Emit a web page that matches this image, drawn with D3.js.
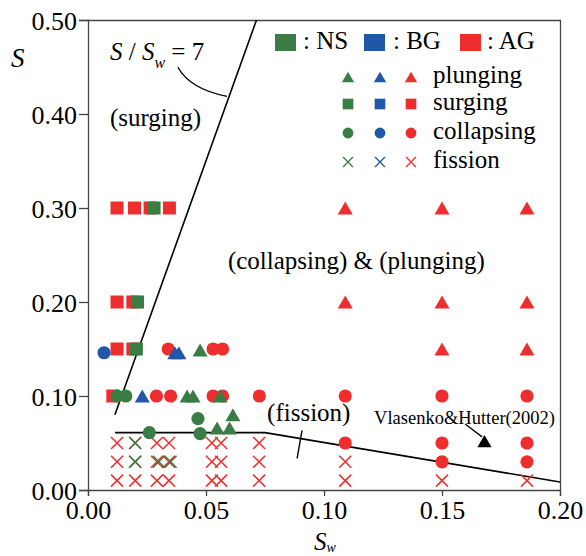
<!DOCTYPE html>
<html><head><meta charset="utf-8">
<script src="https://cdn.jsdelivr.net/npm/d3@7"></script>
<style>body{margin:0;background:#fff}svg{display:block}svg text{font-family:"Liberation Serif","Times New Roman",serif !important}</style>
</head><body><svg id="c" width="586" height="556"></svg>
<script>
// ---- data: [Sw, S] ----
const xTicks = [0, 0.05, 0.10, 0.15, 0.20];
const yTicks = [0, 0.10, 0.20, 0.30, 0.40, 0.50];
const groups = ["NS", "BG", "AG"];
const breakerTypes = ["plunging", "surging", "collapsing", "fission"];

const agPlunging = [[0.109,0.30],[0.150,0.30],[0.186,0.30],[0.109,0.20],[0.150,0.20],[0.186,0.20],[0.150,0.15],[0.186,0.15]];
const agSurging = [[0.0123,0.30],[0.0197,0.30],[0.0263,0.30],[0.0345,0.30],[0.0123,0.20],[0.0190,0.20],[0.0123,0.15],[0.0190,0.15],[0.0105,0.10]];
const agCollapsing = [[0.034,0.15],[0.053,0.15],[0.057,0.15],[0.029,0.10],[0.035,0.10],[0.053,0.10],[0.057,0.10],[0.0726,0.10],
  [0.109,0.10],[0.150,0.10],[0.186,0.10],[0.109,0.05],[0.150,0.05],[0.186,0.05],[0.150,0.03],[0.186,0.03]];
const agFission = [
  [0.0123,0.05],[0.020,0.05],[0.0292,0.05],[0.0343,0.05],[0.0525,0.05],[0.0564,0.05],[0.0725,0.05],
  [0.0123,0.03],[0.020,0.03],[0.0292,0.03],[0.0343,0.03],[0.0525,0.03],[0.0564,0.03],[0.0725,0.03],
  [0.0123,0.01],[0.020,0.01],[0.0292,0.01],[0.0343,0.01],[0.0525,0.01],[0.0564,0.01],[0.0725,0.01],
  [0.109,0.03],[0.109,0.01],[0.150,0.01],[0.186,0.01]];

const bgPlunging = [[0.023,0.10],[0.0368,0.146],[0.0385,0.146]];
const bgSurging = [];
const bgCollapsing = [[0.0068,0.146]];
const bgFission = [];

const nsPlunging = [[0.0475,0.149],[0.042,0.10],[0.0445,0.10],[0.056,0.10],[0.0547,0.066],[0.060,0.066],[0.0614,0.080]];
const nsSurging = [[0.028,0.30],[0.021,0.20],[0.0205,0.15]];
const nsCollapsing = [[0.0123,0.10],[0.016,0.10],[0.0466,0.076],[0.0475,0.060],[0.026,0.061]];
const nsFission = [[0.020,0.05],[0.020,0.03],[0.030,0.03],[0.035,0.03]];

const vlasenkoHutter = [[0.168,0.052]];

const ratioLine = [[0.0114,0.08],[0.0714,0.50]];          // S / Sw = 7
const fissionLine = [[0.0115,0.061],[0.075,0.061],[0.20,0.0085]];

// ---- drawing ----
const colors = {NS:"#3a7d44", BG:"#2157a8", AG:"#ee2e2e"};
const svg = d3.select("#c");
const x = d3.scaleLinear().domain([0,0.2]).range([88,560]);
const y = d3.scaleLinear().domain([0,0.5]).range([490,20]);
const FS = 25;

function shapePath(type, s) {
  if (type === "plunging") { const w = 15*s, h = 13*s; return `M0,${-h/2}L${w/2},${h/2}L${-w/2},${h/2}Z`; }
  if (type === "surging") { const a = 6.5*s; return `M${-a},${-a}H${a}V${a}H${-a}Z`; }
  if (type === "collapsing") { const r = 6.6*s; return d3.arc()({innerRadius:0,outerRadius:r,startAngle:0,endAngle:2*Math.PI}); }
  const c = 6*s; return `M${-c},${-c}L${c},${c}M${-c},${c}L${c},${-c}`;
}
function drawMarks(data, type, color, s) {
  svg.append("g").selectAll("path").data(data).join("path")
    .attr("transform", d => `translate(${x(d[0])},${y(d[1])})`)
    .attr("d", shapePath(type, s))
    .attr("fill", type === "fission" ? "none" : color)
    .attr("stroke", type === "fission" ? color : "none")
    .attr("stroke-width", 1.5);
}

// frame
svg.append("path").attr("d", `M${x(0)},${y(0.5)+0.5}H${x(0.2)+0.5}V${y(0)}`).attr("fill","none").attr("stroke","#444").attr("stroke-width",1.3);

// axes
const gy = svg.append("g").attr("transform", `translate(${x(0)},0)`)
  .call(d3.axisLeft(y).tickValues(yTicks).tickFormat(d3.format(".2f")).tickSize(9).tickPadding(2));
const gx = svg.append("g").attr("transform", `translate(0,${y(0)})`)
  .call(d3.axisBottom(x).tickValues(xTicks).tickFormat(d3.format(".2f")).tickSize(6).tickPadding(5));
[gx, gy].forEach(g => {
  g.attr("font-family", "Liberation Serif");
  g.selectAll("path.domain,line").attr("stroke","#444").attr("stroke-width",1.3);
  g.selectAll("text").attr("font-size",26).attr("fill","#000");
});
gy.selectAll("text").attr("dy","0.38em");

// boundary lines
const line = d3.line().x(d => x(d[0])).y(d => y(d[1]));
svg.append("path").attr("d", line(ratioLine)).attr("fill","none").attr("stroke","#000").attr("stroke-width",1.6);
svg.append("path").attr("d", line(fissionLine)).attr("fill","none").attr("stroke","#000").attr("stroke-width",1.6);

// markers: red, then blue, then green
const series = {
  AG: [agFission, agSurging, agCollapsing, agPlunging],
  BG: [bgFission, bgSurging, bgCollapsing, bgPlunging],
  NS: [nsFission, nsSurging, nsCollapsing, nsPlunging]
};
const order = ["fission","surging","collapsing","plunging"];
["AG","BG","NS"].forEach(g => series[g].forEach((d,i) => drawMarks(d, order[i], colors[g], 1)));
drawMarks(vlasenkoHutter, "plunging", "#000", 0.95);

// annotations
const txt = (t, px, py, size) => svg.append("text").attr("x",px).attr("y",py).attr("font-size",size).attr("fill","#000").text(t);
txt("(surging)", x(0.0093), y(0.3872), FS);
txt("(collapsing) & (plunging)", x(0.0593), y(0.2355), FS);
txt("(fission)", x(0.0759), y(0.0735), FS);
txt("Vlasenko&Hutter(2002)", x(0.1212), y(0.0702), 18.5);

const eq = svg.append("text").attr("x", x(0.0093)).attr("y", y(0.4574)).attr("font-size", FS).attr("fill","#000");
eq.append("tspan").attr("font-style","italic").text("S");
eq.append("tspan").text(" / ");
eq.append("tspan").attr("font-style","italic").text("S");
eq.append("tspan").attr("font-style","italic").attr("font-size",16).attr("dy",8).text("w");
eq.append("tspan").attr("dy",-8).text(" = 7");

// leader curve S/Sw=7
svg.append("path").attr("d", `M${x(0.0381)},${y(0.4497)}Q${x(0.0432)},${y(0.4265)} ${x(0.0589)},${y(0.4187)}`)
  .attr("fill","none").attr("stroke","#000").attr("stroke-width",1.4);
// tick mark on fission boundary
svg.append("path").attr("d", line([[0.0907,0.0635],[0.0886,0.0337]])).attr("fill","none").attr("stroke","#000").attr("stroke-width",1.4);
// arrow to Vlasenko & Hutter point
svg.append("path").attr("d", line([[0.1598,0.0702],[0.1670,0.0565]])).attr("fill","none").attr("stroke","#000").attr("stroke-width",1.3);

// axis titles
svg.append("text").attr("x",11).attr("y",67).attr("font-size",27).attr("font-style","italic").attr("fill","#000").text("S");
const xl = svg.append("text").attr("x",x(0.1)-10).attr("y",550).attr("font-size",25).attr("font-style","italic").attr("fill","#000");
xl.append("tspan").text("S");
xl.append("tspan").attr("font-size",14).attr("dy",2).text("w");

// legend
const leg = svg.append("g");
const hdr = [["NS",275,303],["BG",364,393],["AG",460,487]];
hdr.forEach(([g,sx,tx]) => {
  leg.append("rect").attr("x",sx).attr("y",34).attr("width",21).attr("height",17).attr("fill",colors[g]);
  leg.append("text").attr("x",tx).attr("y",49).attr("font-size",FS).attr("fill","#000").text(": " + g);
});
const rowY = [77, 104, 133, 162];
const colX = {NS:348, BG:380, AG:411};
breakerTypes.forEach((t,i) => {
  groups.forEach(g => {
    leg.append("path").attr("transform",`translate(${colX[g]},${rowY[i]})`).attr("d", shapePath(t, 0.82))
      .attr("fill", t==="fission" ? "none" : colors[g]).attr("stroke", t==="fission" ? colors[g] : "none").attr("stroke-width",1.3);
  });
  leg.append("text").attr("x",433).attr("y",rowY[i]+6).attr("font-size",FS).attr("fill","#000").text(t);
});
</script></body></html>
